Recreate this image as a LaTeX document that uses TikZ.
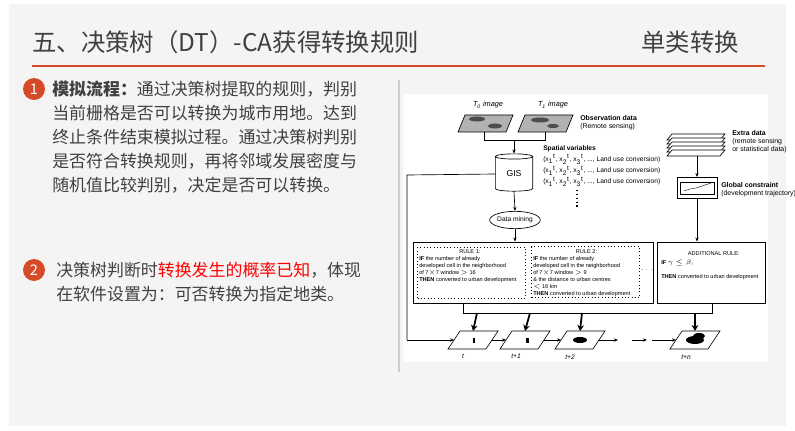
\documentclass[tikz,border=0pt]{standalone}
\usepackage{fontspec}
\setmainfont{Noto Sans CJK SC}
\newfontfamily\fig{Liberation Sans}
\usetikzlibrary{shapes.geometric,arrows.meta}
\definecolor{accent}{HTML}{D64B27}
\definecolor{txt}{HTML}{404040}
\tikzset{
 body/.style={anchor=west,inner sep=0,text=txt,font=\fontsize{12.7}{14}\selectfont},
 num/.style={circle,fill=accent,text=white,minimum size=16.5pt,inner sep=0,font=\fontsize{11}{12}\selectfont},
 tiny/.style={font=\fig\fontsize{4.2}{5.3}\selectfont,inner sep=0,align=left},
 small/.style={font=\fig\fontsize{5.2}{6}\selectfont,inner sep=0,align=left,anchor=west},
 arr/.style={-{Stealth[length=3pt,width=2.5pt]},line width=0.5pt},
 bigarr/.style={-{Stealth[length=4.5pt,width=5pt]},line width=1.3pt},
 ln/.style={line width=0.5pt},
 tlab/.style={font=\fig\itshape\fontsize{5}{6}\selectfont,inner sep=0},
}
\begin{document}
\begin{tikzpicture}[x=0.75pt,y=-0.75pt]
\useasboundingbox (0,0) rectangle (795,431);
\fill[white] (0,0) rectangle (795,431);
\fill[gray!9] (9,4) rectangle (786,426);
% title
\node[anchor=west,inner sep=0,text=txt,font=\fontsize{18.3}{20}\selectfont] (title) at (32,42) {五、决策树（DT）-CA获得转换规则};
\node[anchor=west,inner sep=0,text=txt,font=\fontsize{18.3}{20}\selectfont] (sub) at (641,42) {单类转换};
\draw[accent,line width=1.5pt] (32,66) -- (765,66);
% left text
\node[num] (n1) at (34,89) {1};
\node[body] (l1) at (52,89) {\textbf{模拟流程：}通过决策树提取的规则，判别};
\node[body] (l2) at (52,113) {当前栅格是否可以转换为城市用地。达到};
\node[body] (l3) at (52,137) {终止条件结束模拟过程。通过决策树判别};
\node[body] (l4) at (52,161) {是否符合转换规则，再将邻域发展密度与};
\node[body] (l5) at (52,185) {随机值比较判别，决定是否可以转换。};
\node[num] (n2) at (34,270) {2};
\node[body] (m1) at (56,270) {决策树判断时\textcolor{red}{转换发生的概率已知}，体现};
\node[body] (m2) at (56,294) {在软件设置为：可否转换为指定地类。};
\draw[gray!40,line width=0.8pt] (399,80) -- (399,372);
% figure
\fill[white] (403,94) rectangle (768,362);
\node[tlab,font=\fig\itshape\fontsize{5.5}{6}\selectfont] (t0l) at (488,105) {T\textsubscript{0} image};
\node[tlab,font=\fig\itshape\fontsize{5.5}{6}\selectfont] (t1l) at (553,105) {T\textsubscript{1} image};
\draw[fill=gray!60,ln] (465,115) -- (513,115) -- (506,132) -- (458,132) -- cycle;
\draw[fill=gray!60,ln] (525,115) -- (573,115) -- (566,132) -- (518,132) -- cycle;
\fill[black!70] (477,119) ellipse (8 and 2.5) (495,126) ellipse (7 and 2.5) (540,120) ellipse (9 and 2.5) (553,126) ellipse (6 and 2);
\node[small] (obs) at (580,123) {\textbf{Observation data}\\(Remote sensing)};
\coordinate (ia) at (484,132); \coordinate (ib) at (545,132);
\draw[ln] (ia) -- (484,140) -- (545,140) -- (ib);
\node[cylinder,shape border rotate=90,draw,ln,minimum width=28pt,minimum height=28pt,aspect=0.35,inner sep=0,font=\fig\fontsize{6.5}{7}\selectfont] (gis) at (514,174) {GIS};
\draw[arr] (514,140) -- (gis.top);
\node[small,font=\fig\fontsize{5}{8.3}\selectfont] (sv) at (543,166) {\textbf{Spatial variables}\\(x\textsubscript{1}\textsuperscript{t}, x\textsubscript{2}\textsuperscript{t}, x\textsubscript{3}\textsuperscript{t}, ..., Land use conversion)\\(x\textsubscript{1}\textsuperscript{t}, x\textsubscript{2}\textsuperscript{t}, x\textsubscript{3}\textsuperscript{t}, ..., Land use conversion)\\(x\textsubscript{1}\textsuperscript{t}, x\textsubscript{2}\textsuperscript{t}, x\textsubscript{3}\textsuperscript{t}, ..., Land use conversion)};
\draw[dotted,line width=0.9pt] (577,190) -- (577,207);
\node[ellipse,draw,ln,minimum width=38pt,minimum height=13pt,inner sep=0,font=\fig\fontsize{5}{6}\selectfont] (dm) at (515,220) {Data mining};
\draw[arr] (gis.bottom) -- (dm.north);
% extra data stack
\foreach \k in {0,1,2,3,4}{
 \draw[ln,fill=white] (672,{134+4*\k}) -- (725,{134+4*\k}) -- (720,{140+4*\k}) -- (667,{140+4*\k}) -- cycle;}
\coordinate (stack) at (697,156);
\node[small] (ex) at (732,142) {\textbf{Extra data}\\(remote sensing\\or statistical data)};
\node[draw,ln,minimum width=30pt,minimum height=16pt,inner sep=0] (gc) at (697,188) {};
\draw[ln] (680,182) rectangle (714,194);
\draw[line width=0.3pt] (684,191) -- (690,189) -- (696,188) -- (702,186) -- (708,184) -- (711,183);
\node[small] (gct) at (721,190) {\textbf{Global constraint}\\(development trajectory)};
\draw[arr] (stack) -- (gc.north);
% rule boxes
\node[draw,ln,minimum width=180pt,minimum height=46pt,inner sep=0] (big) at (533,272.5) {};
\node[draw,dotted,ln,minimum width=81pt,minimum height=38pt,inner sep=0] (r1) at (471.5,272.5) {};
\node[draw,dotted,ln,minimum width=81pt,minimum height=38pt,inner sep=0] (r2) at (585.5,272) {};
\node[tiny,anchor=north west] (r1t) at (419,249) {\hspace*{30pt}RULE 1:\\\textbf{IF} the number of already\\developed cell in the neighborhood\\of 7$\times$7 window $>$ 16\\\textbf{THEN} converted to urban development};
\node[tiny,anchor=north west] (r2t) at (533,249) {\hspace*{32pt}RULE 2:\\\textbf{IF} the number of already\\developed cell in the neighborhood\\of 7$\times$7 window $>$ 9\\\& the distance to urban centres\\$<$ 16 km\\\textbf{THEN} converted to urban development};
\node[tiny] (dots) at (647,270) {$\cdots$};
\node[draw,ln,minimum width=81pt,minimum height=46pt,inner sep=0] (add) at (711,272.5) {};
\node[tiny,anchor=north west] (addt) at (661,251) {\hspace*{20pt}ADDITIONAL RULE:\\[2pt]\textbf{IF} $\gamma\le\beta$,\\[5pt]\textbf{THEN} converted to urban development};
\draw[arr] (dm.south) -- (dm.south|-big.north);
\draw[arr] (gc.south) -- (gc.south|-add.north);
% planes
\tikzset{plane/.style={draw,ln,fill=white}}
\foreach \n/\x in {p0/448,p1/500,p2/555,pn/670}{
 \draw[plane] (\x+12,331) -- (\x+50,331) -- (\x+38,349) -- (\x,349) -- cycle;
 \coordinate (\n) at (\x+25,340);
 \coordinate (\n t) at (\x+25,331);
 \coordinate (\n w) at (\x+6,340);
 \coordinate (\n e) at (\x+44,340);}
\fill (p0)++(0,-2) rectangle ++(2,5);
\fill (p1)++(1,-2) rectangle ++(3,5);
\fill (p2) ellipse (7 and 3); \fill (pn) ellipse (9 and 4); \fill (pn)++(4,-4) ellipse (6 and 3);
\node[tlab] (lt) at (463,356) {t};
\node[tlab] (lt1) at (516,356) {t+1};
\node[tlab] (lt2) at (570,357) {t+2};
\node[tlab] (ltn) at (686,357) {t+n};
\coordinate (b1) at (463,303); \coordinate (b2) at (712,303);
\draw[ln] (b1) -- (463,313) -- (712,313) -- (b2);
\draw[bigarr] (477,313) -- (p0t);
\draw[bigarr] (530,313) -- (p1t);
\draw[bigarr] (582,313) -- (p2t);
\draw[bigarr] (695,313) -- (pnt);
\draw[ln] (gis.west) -- (407,175) -- (407,340);
\draw[arr] (407,340) -- (p0w);
\draw[arr] (p0e) -- (p1w);
\draw[arr] (p1e) -- (p2w);
\draw[arr] (p2e) -- (618,340);
\draw[arr] (632,340) -- (647,340);
\draw[arr] (652,340) -- (pnw);
\end{tikzpicture}
\end{document}
